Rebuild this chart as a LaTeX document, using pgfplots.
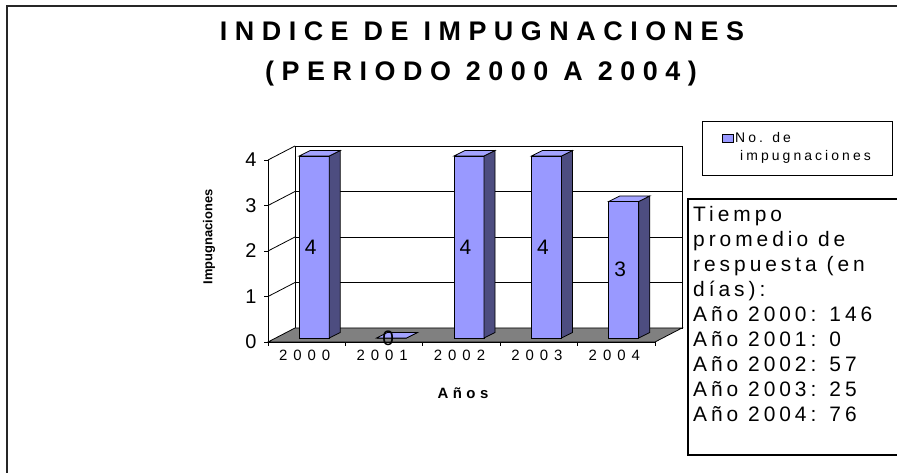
\documentclass[border=0pt]{standalone}
\usepackage{pgfplots}
\pgfplotsset{compat=1.18}
\usepackage{pgfplotstable}
\usepackage{fontspec}
\setmainfont{Liberation Sans}
\newfontfamily\titlefont[LetterSpace=28]{Liberation Sans}
\newfontfamily\xtickfont[LetterSpace=40]{Liberation Sans}
\newfontfamily\alabfont[LetterSpace=30]{Liberation Sans}
\newfontfamily\legfont[LetterSpace=22]{Liberation Sans}
\newfontfamily\boxfont[LetterSpace=19]{Liberation Sans}
\definecolor{frontc}{HTML}{9999FF}
\definecolor{topc}{HTML}{A3A3FF}
\definecolor{sidec}{HTML}{4D4D80}
\definecolor{floorc}{HTML}{808080}
\pgfplotstableread{
x v
0 4
1 0
2 4
3 4
4 3
}\datatable
% top and side faces of a 3D bar, drawn at the bar's data point
\pgfdeclareplotmark{barthreed}{%
  \pgfmathsetmacro\barH{\barval*45.5}%
  \pgfsetlinewidth{0.8bp}%
  \pgfsetstrokecolor{black}%
  \pgfsetfillcolor{sidec}%
  \pgfpathmoveto{\pgfpoint{22.5bp}{4bp}}%
  \pgfpathlineto{\pgfpoint{33.5bp}{9.5bp}}%
  \pgfpathlineto{\pgfpoint{33.5bp}{9.5bp-\barH bp}}%
  \pgfpathlineto{\pgfpoint{22.5bp}{4bp-\barH bp}}%
  \pgfpathclose
  \pgfusepath{fill,stroke}%
  \pgfsetfillcolor{topc}%
  \pgfpathmoveto{\pgfpoint{-7.5bp}{4bp}}%
  \pgfpathlineto{\pgfpoint{22.5bp}{4bp}}%
  \pgfpathlineto{\pgfpoint{33.5bp}{9.5bp}}%
  \pgfpathlineto{\pgfpoint{3.5bp}{9.5bp}}%
  \pgfpathclose
  \pgfusepath{fill,stroke}%
}
\begin{document}
\begin{tikzpicture}[x=1bp,y=1bp]
% chart area border
\draw[line width=1.5bp, black!85] (7,-2) -- (7,467) -- (900,467);
\begin{axis}[
  set layers,
  at={(268bp,131bp)}, anchor=south west,
  scale only axis, width=387bp, height=182bp,
  xmin=-0.5, xmax=4.5, ymin=0, ymax=4,
  clip=false,
  axis lines=left,
  axis line style={-, line width=0.8bp},
  tick align=outside,
  major tick length=4bp,
  tick style={black, line width=0.8bp},
  xtick={-0.5,0.5,1.5,2.5,3.5,4.5},
  x tick label as interval=true,
  xticklabels={2000,2001,2002,2003,2004},
  xticklabel style={font=\xtickfont\fontsize{15}{17}\selectfont, yshift=-1bp, xshift=-2bp},
  ytick={0,1,2,3,4},
  yticklabel style={font=\fontsize{20}{22}\selectfont, xshift=-4bp},
  /pgf/number format/assume math mode=true,
]
\begin{pgfonlayer}{axis background}
  % back wall
  \draw[line width=0.8bp, fill=white] ([shift={(27bp,14bp)}]axis cs:-0.5,0) rectangle ([shift={(27bp,14bp)}]axis cs:4.5,4);
  \draw[line width=0.8bp] ([shift={(27bp,14bp)}]axis cs:-0.5,1) -- ([shift={(27bp,14bp)}]axis cs:4.5,1);
  \draw[line width=0.8bp] ([shift={(27bp,14bp)}]axis cs:-0.5,2) -- ([shift={(27bp,14bp)}]axis cs:4.5,2);
  \draw[line width=0.8bp] ([shift={(27bp,14bp)}]axis cs:-0.5,3) -- ([shift={(27bp,14bp)}]axis cs:4.5,3);
  % side wall
  \draw[line width=0.8bp] (axis cs:-0.5,1) -- ([shift={(27bp,14bp)}]axis cs:-0.5,1);
  \draw[line width=0.8bp] (axis cs:-0.5,2) -- ([shift={(27bp,14bp)}]axis cs:-0.5,2);
  \draw[line width=0.8bp] (axis cs:-0.5,3) -- ([shift={(27bp,14bp)}]axis cs:-0.5,3);
  \draw[line width=0.8bp] (axis cs:-0.5,4) -- ([shift={(27bp,14bp)}]axis cs:-0.5,4);
  % floor
  \draw[line width=0.8bp, fill=floorc] (axis cs:-0.5,0) -- ([shift={(27bp,14bp)}]axis cs:-0.5,0) -- ([shift={(27bp,14bp)}]axis cs:4.5,0) -- (axis cs:4.5,0) -- cycle;
\end{pgfonlayer}
% top and side faces of bars
\addplot[only marks, mark=barthreed, forget plot,
  visualization depends on={y \as \barval}] table[x=x,y=v] {\datatable};
% front face of bars
\addplot[ybar, bar width=30bp, bar shift=0bp, xshift=7.5bp, yshift=4bp, fill=frontc, draw=black, line width=0.8bp, forget plot] table[x=x,y=v] {\datatable};
% data labels
\addplot[draw=none, mark=none, forget plot,
  y filter/.expression={y/2},
  point meta=explicit,
  nodes near coords,
  every node near coord/.append style={anchor=center, xshift=4bp, yshift=4bp, font=\fontsize{21}{23}\selectfont, black}
] table[x=x,y=v,meta=v] {\datatable};
\end{axis}
% titles
\node[font=\titlefont\bfseries\fontsize{27}{30}\selectfont] at (482,442) {INDICE DE IMPUGNACIONES};
\node[font=\titlefont\bfseries\fontsize{27}{30}\selectfont] at (481,399) {(PERIODO 2000 A 2004)};
\node[font=\bfseries\fontsize{13}{15}\selectfont, rotate=90] at (209,236) {Impugnaciones};
\node[font=\alabfont\bfseries\fontsize{15}{17}\selectfont] at (463,80) {Años};
% legend
\draw[line width=0.8bp] (702,298) rectangle (892,352);
\draw[line width=0.8bp, fill=frontc] (722,331) rectangle (733,339);
\node[anchor=base west, inner sep=0pt, font=\legfont\fontsize{14}{16}\selectfont] at (735,330.5) {No. de};
\node[anchor=base west, inner sep=0pt, font=\legfont\fontsize{14}{16}\selectfont] at (740,312) {impugnaciones};
% text box
\draw[line width=1.2bp] (688,18) rectangle (902,274);
\node[anchor=north west, inner sep=0pt, align=left, font=\boxfont\fontsize{21}{25.1}\selectfont] at (693,267) {Tiempo\\promedio de\\respuesta (en\\días):\\Año 2000: 146\\Año 2001: 0\\Año 2002: 57\\Año 2003: 25\\Año 2004: 76};
\pgfresetboundingbox
\path[use as bounding box] (0,0) rectangle (897,473);
\end{tikzpicture}
\end{document}
